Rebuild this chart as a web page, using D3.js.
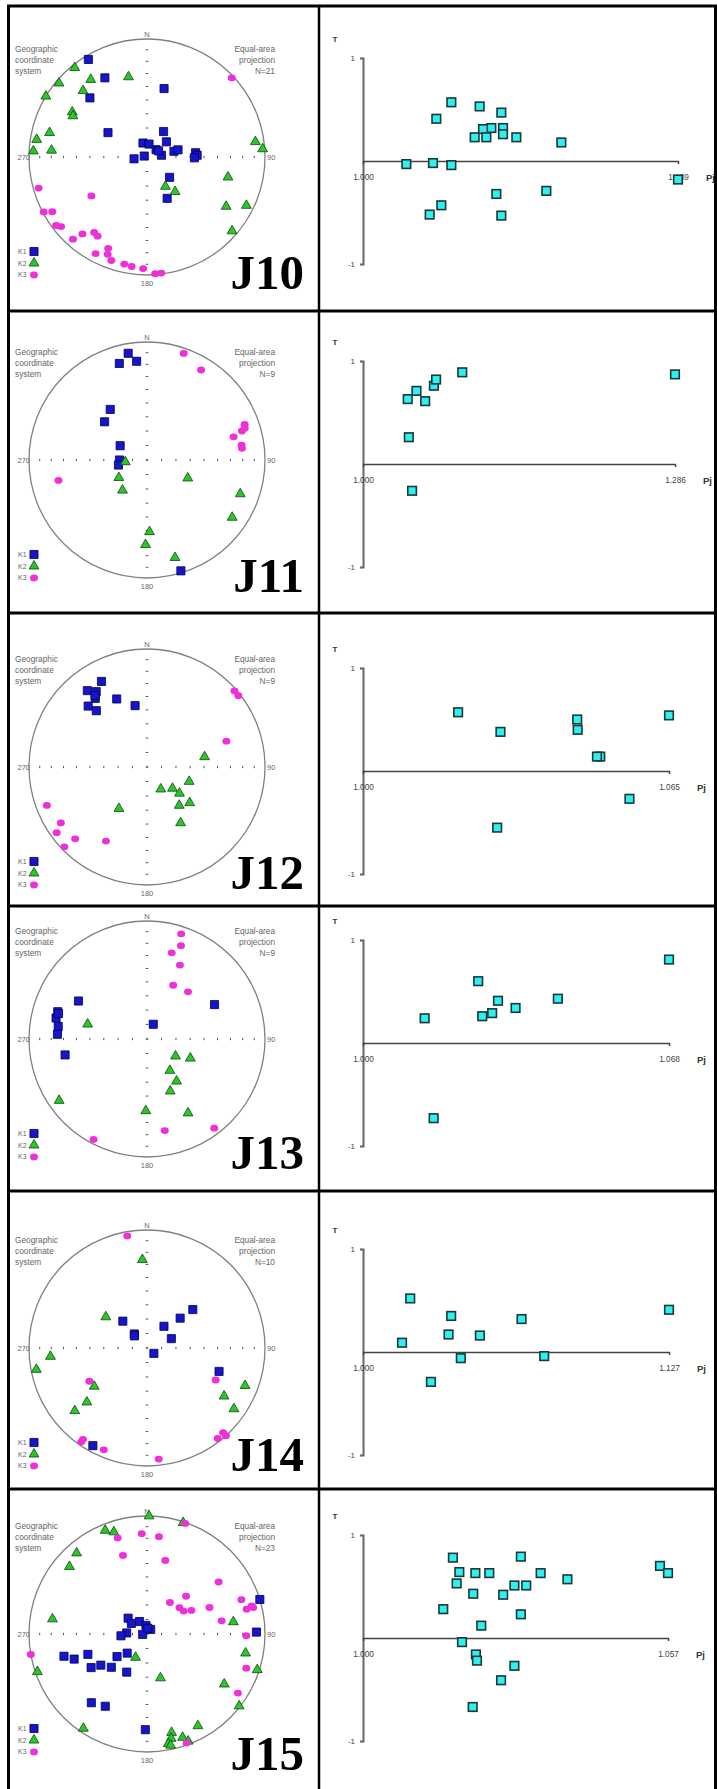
<!DOCTYPE html>
<html>
<head>
<meta charset="utf-8">
<script src="https://cdn.jsdelivr.net/npm/d3@7"></script>
<style>
body { margin: 0; background: #fff; }
svg { display: block; }
</style>
</head>
<body>
<div id="chart"></div>
<script>
// sites, one row each
var sites = ["J10", "J11", "J12", "J13", "J14", "J15"];
var nSpecimens = [21, 9, 9, 9, 10, 23];
var pjMax = [1.189, 1.286, 1.065, 1.068, 1.127, 1.057];

// AMS principal axes, [trend, plunge] in degrees (lower hemisphere)
var k1J10 = [[329,4],[332,25],[14,40],[316,31],[302,58],[33,69],[344,80],[9,81],[52,73],[51,82],[83,80],[78,71],[77,68],[262,81],[289,88],[85,56],[88,55],[91,57],[132,69],[154,58],[62,81]];
var k2J10 = [[321,3],[324,20],[347,31],[310,3],[316,23],[301,0],[301,27],[299,29],[284,16],[279,6],[274,20],[273,4],[82,8],[86,2],[104,30],[148,66],[141,59],[122,22],[116,7],[131,5]];
var k3J10 = [[47,2],[254,5],[235,42],[242,1],[240,8],[233,4],[231,7],[222,7],[220,16],[215,23],[212,22],[203,17],[208,8],[202,12],[199,8],[192,8],[188,7],[182,6],[176,1],[173,1]];

var k1J11 = [[350,9],[344,16],[354,17],[324,46],[312,50],[298,69],[270,71],[260,70],[163,2]];
var k2J11 = [[265,75],[238,67],[219,63],[114,59],[110,17],[124,14],[178,39],[181,29],[164,15]];
var k3J11 = [[19,5],[31,12],[70,13],[73,17],[72,14],[75,25],[81,20],[83,20],[257,24]];

var k1J12 = [[332,19],[322,19],[326,24],[323,28],[316,29],[318,36],[336,37],[349,46],[324,26]];
var k2J12 = [[80,49],[109,59],[148,72],[130,67],[129,61],[130,51],[140,55],[149,44],[214,55]];
var k3J12 = [[49,2],[52,2],[72,30],[249,10],[237,14],[234,6],[225,15],[226,3],[209,29]];

var k1J13 = [[299,34],[287,22],[283,22],[278,25],[273,25],[259,30],[23,79],[63,36],[286,23]];
var k2J13 = [[284,47],[121,67],[114,57],[144,63],[145,54],[156,50],[151,29],[181,39],[235,10]];
var k3J13 = [[18,7],[20,17],[16,25],[24,32],[26,48],[41,46],[169,22],[143,6],[208,4]];

var k1J14 = [[50,48],[48,59],[38,71],[69,72],[318,65],[318,77],[314,78],[128,84],[108,36],[209,6]];
var k2J14 = [[357,26],[307,54],[265,19],[259,5],[234,44],[228,32],[229,20],[111,12],[122,24],[125,11]];
var k3J14 = [[350,4],[240,43],[115,36],[138,4],[138,0],[142,3],[215,6],[215,3],[203,7],[174,6]];

var k1J15 = [[73,0],[89,8],[310,73],[329,80],[304,77],[353,84],[39,86],[265,87],[273,76],[266,72],[255,28],[251,35],[251,46],[239,44],[236,51],[227,56],[233,64],[226,71],[208,60],[219,26],[210,30],[181,20],[8,86]];
var k2J15 = [[1,0],[18,1],[338,6],[342,10],[319,10],[311,14],[279,20],[82,27],[206,72],[101,16],[108,2],[251,2],[163,58],[123,23],[128,1],[151,12],[214,4],[166,15],[167,10],[169,6],[161,8],[159,3],[168,4]];
var k3J15 = [[19,1],[357,16],[7,18],[343,16],[343,31],[14,36],[54,26],[46,52],[36,63],[51,61],[58,60],[62,55],[67,42],[70,16],[76,14],[75,9],[76,8],[80,36],[91,17],[109,12],[123,9],[160,2],[260,0]];

// shape parameter T against corrected anisotropy degree Pj, [Pj, T]
var tpjJ10 = [[1.053,0.57],[1.044,0.41],[1.070,0.53],[1.083,0.47],[1.077,0.32],[1.072,0.31],[1.084,0.32],[1.067,0.23],[1.074,0.23],[1.084,0.26],[1.092,0.23],[1.119,0.18],[1.026,-0.03],[1.042,-0.02],[1.053,-0.04],[1.080,-0.32],[1.110,-0.29],[1.047,-0.43],[1.040,-0.52],[1.083,-0.53],[1.189,-0.18]];
var tpjJ11 = [[1.041,0.63],[1.049,0.71],[1.057,0.61],[1.065,0.76],[1.067,0.82],[1.091,0.89],[1.286,0.87],[1.042,0.26],[1.045,-0.26]];
var tpjJ12 = [[1.0202,0.57],[1.0292,0.38],[1.0455,0.50],[1.0456,0.40],[1.0504,0.14],[1.0497,0.14],[1.065,0.54],[1.0566,-0.27],[1.0285,-0.55]];
var tpjJ13 = [[1.068,0.81],[1.0256,0.60],[1.030,0.41],[1.0433,0.43],[1.0339,0.34],[1.0287,0.29],[1.0265,0.26],[1.0137,0.24],[1.0157,-0.73]];
var tpjJ14 = [[1.0196,0.52],[1.0366,0.35],[1.0658,0.32],[1.127,0.41],[1.0355,0.17],[1.0485,0.16],[1.0162,0.09],[1.0406,-0.06],[1.0752,-0.04],[1.0282,-0.29]];
var tpjJ15 = [[1.0168,0.78],[1.0295,0.79],[1.0555,0.70],[1.057,0.63],[1.0180,0.64],[1.0210,0.63],[1.0236,0.63],[1.0332,0.63],[1.0382,0.57],[1.0175,0.53],[1.0283,0.51],[1.0305,0.51],[1.0206,0.43],[1.0262,0.42],[1.0150,0.28],[1.0295,0.23],[1.0221,0.12],[1.0185,-0.04],[1.0211,-0.16],[1.0213,-0.22],[1.0283,-0.27],[1.0258,-0.41],[1.0205,-0.67]];

var k1 = [k1J10, k1J11, k1J12, k1J13, k1J14, k1J15];
var k2 = [k2J10, k2J11, k2J12, k2J13, k2J14, k2J15];
var k3 = [k3J10, k3J11, k3J12, k3J13, k3J14, k3J15];
var tpj = [tpjJ10, tpjJ11, tpjJ12, tpjJ13, tpjJ14, tpjJ15];

function init() {
	//Dimensions
	var W = 717, H = 1789;
	var rowLines = [6, 311, 613, 906, 1191, 1489];
	var netCx = 147, netR = 118;
	var netCy = [157, 460, 767, 1039, 1348, 1634];
	var tagY = [289, 592, 889, 1169, 1471, 1770];
	var plotX0 = 363, plotHalf = 103;
	var plotX1 = [678, 675, 669, 669, 669, 668];

	var svg = d3.select("#chart")
				.append("svg")
				.attr("width", W)
				.attr("height", H)
				.style("font-family", "'Liberation Sans', Arial, sans-serif");

	svg.append("rect")
		.attr("width", W)
		.attr("height", H)
		.attr("fill", "#fff");

	// equal-area radius for a plunge, 0..1 of the net radius
	var rScale = d3.scaleLinear().domain([0, 1]).range([0, netR]);
	function eqArea(plunge) {
		return Math.SQRT2 * Math.sin((90 - plunge) * Math.PI / 360);
	}
	function pos(d) {
		var r = rScale(eqArea(d[1]));
		var t = d[0] * Math.PI / 180;
		return [r * Math.sin(t), -r * Math.cos(t)];
	}

	var square = d3.symbol(d3.symbolSquare, 66);
	var triangle = d3.symbol(d3.symbolTriangle, 42);

	sites.forEach(function(site, i) {
		var cy = netCy[i];

		//Stereonet
		var net = svg.append("g")
					.attr("transform", "translate(" + netCx + "," + cy + ")");

		net.append("circle")
			.attr("r", netR)
			.attr("fill", "none")
			.attr("stroke", "#808080")
			.attr("stroke-width", 1.3);

		// dip ticks every 10 degrees along both diameters
		var ticks = [0];
		d3.range(10, 90, 10).forEach(function(d) {
			var r = rScale(eqArea(d));
			ticks.push(r, -r);
		});
		net.selectAll("line.h")
			.data(ticks)
			.enter()
			.append("line")
			.attr("x1", function(d) { return d; })
			.attr("x2", function(d) { return d; })
			.attr("y1", -1.2)
			.attr("y2", 1.2)
			.attr("stroke", "#555")
			.attr("stroke-width", 1);
		net.selectAll("line.v")
			.data(ticks)
			.enter()
			.append("line")
			.attr("y1", function(d) { return d; })
			.attr("y2", function(d) { return d; })
			.attr("x1", -1.3)
			.attr("x2", 1.3)
			.attr("stroke", "#555")
			.attr("stroke-width", 1);

		var small = net.append("g")
					.attr("font-size", 7.5)
					.attr("fill", "#666");
		small.append("text").attr("x", 0).attr("y", -netR - 2).attr("text-anchor", "middle").text("N");
		small.append("text").attr("x", -netR + 1).attr("y", 3).attr("text-anchor", "end").text("270");
		small.append("text").attr("x", netR + 2).attr("y", 3).text("90");
		small.append("text").attr("x", 0).attr("y", netR + 11).attr("text-anchor", "middle").text("180");

		var left = ["Geographic", "coordinate", "system"];
		var right = ["Equal-area", "projection", "N=" + nSpecimens[i]];
		small.selectAll("text.l")
			.data(left)
			.enter()
			.append("text")
			.attr("x", -132)
			.attr("y", function(d, j) { return -105 + j * 11; })
			.attr("font-size", 8.3)
			.text(function(d) { return d; });
		small.selectAll("text.r")
			.data(right)
			.enter()
			.append("text")
			.attr("x", 128)
			.attr("y", function(d, j) { return -105 + j * 11; })
			.attr("text-anchor", "end")
			.attr("font-size", 8.3)
			.text(function(d) { return d; });

		//Legend
		["K1", "K2", "K3"].forEach(function(k, j) {
			var ly = 97 + j * 11.7;
			small.append("text").attr("x", -129).attr("y", ly).attr("font-size", 7).text(k);
			if (j == 0) {
				net.append("path").attr("d", square).attr("transform", "translate(-113," + (ly - 2.5) + ")")
					.attr("fill", "#1616c8").attr("stroke", "#00005a").attr("stroke-width", 0.8);
			} else if (j == 1) {
				net.append("path").attr("d", triangle).attr("transform", "translate(-113," + (ly - 2.5) + ")")
					.attr("fill", "#2cc62c").attr("stroke", "#0a4a0a").attr("stroke-width", 0.8);
			} else {
				net.append("ellipse").attr("cx", -113).attr("cy", ly - 2.5).attr("rx", 4).attr("ry", 3.4)
					.attr("fill", "#ee30d8");
			}
		});

		//Points: K1 squares, K2 triangles, K3 circles
		net.selectAll("path.k1")
			.data(k1[i])
			.enter()
			.append("path")
			.attr("d", square)
			.attr("transform", function(d) { return "translate(" + pos(d) + ")"; })
			.attr("fill", "#1616c8")
			.attr("stroke", "#00005a")
			.attr("stroke-width", 0.8);
		net.selectAll("path.k2")
			.data(k2[i])
			.enter()
			.append("path")
			.attr("d", triangle)
			.attr("transform", function(d) { return "translate(" + pos(d) + ")"; })
			.attr("fill", "#2cc62c")
			.attr("stroke", "#0a4a0a")
			.attr("stroke-width", 0.8);
		net.selectAll("ellipse.k3")
			.data(k3[i])
			.enter()
			.append("ellipse")
			.attr("cx", function(d) { return pos(d)[0]; })
			.attr("cy", function(d) { return pos(d)[1]; })
			.attr("rx", 4)
			.attr("ry", 3.4)
			.attr("fill", "#ee30d8");

		//Site tag
		net.append("text")
			.attr("x", 157)
			.attr("y", tagY[i] - cy)
			.attr("text-anchor", "end")
			.style("font-family", "'Liberation Serif', 'Times New Roman', serif")
			.style("font-weight", "bold")
			.style("font-size", "49px")
			.text(site);

		//T - Pj plot
		var y0 = cy + 4;
		var xScale = d3.scaleLinear()
					.domain([1, pjMax[i]])
					.range([plotX0, plotX1[i]]);
		var yScale = d3.scaleLinear()
					.domain([-1, 1])
					.range([y0 + plotHalf, y0 - plotHalf]);

		var yAxis = svg.append("g")
			.attr("transform", "translate(" + plotX0 + ",0)")
			.call(d3.axisLeft(yScale)
				.tickValues([-1, 1])
				.tickSize(3)
				.tickSizeOuter(3)
				.tickPadding(5)
				.tickFormat(function(d) { return d < 0 ? "-1" : "1"; }));
		yAxis.attr("font-size", 8).attr("font-family", null);
		yAxis.select(".domain").attr("stroke", "#666").attr("stroke-width", 2);
		yAxis.selectAll("line").attr("stroke", "#666").attr("stroke-width", 1.2);
		yAxis.selectAll("text").attr("fill", "#444");

		var xAxis = svg.append("g")
			.attr("transform", "translate(0," + y0 + ")")
			.call(d3.axisBottom(xScale)
				.tickValues([1, pjMax[i]])
				.tickSizeInner(0)
				.tickSizeOuter(3)
				.tickPadding(13)
				.tickFormat(d3.format(".3f")));
		xAxis.attr("font-size", 8.3).attr("font-family", null);
		xAxis.select(".domain").attr("stroke", "#444").attr("stroke-width", 1.5);
		xAxis.selectAll("text").attr("fill", "#444");

		svg.append("text")
			.attr("x", plotX0 - 28)
			.attr("y", y0 - 119)
			.attr("text-anchor", "middle")
			.attr("font-size", 8)
			.attr("font-weight", "bold")
			.attr("fill", "#333")
			.text("T");
		svg.append("text")
			.attr("x", plotX1[i] + 28)
			.attr("y", y0 + 20)
			.attr("font-size", 9.5)
			.attr("font-weight", "bold")
			.attr("fill", "#333")
			.text("Pj");

		svg.append("g")
			.selectAll("rect")
			.data(tpj[i])
			.enter()
			.append("rect")
			.attr("x", function(d) { return xScale(d[0]) - 4.3; })
			.attr("y", function(d) { return yScale(d[1]) - 4.3; })
			.attr("width", 8.6)
			.attr("height", 8.6)
			.attr("fill", "#2ef0f0")
			.attr("stroke", "#1c3838")
			.attr("stroke-width", 1.6);
	});

	//Frame
	var frame = svg.append("g")
				.attr("stroke", "#000")
				.attr("stroke-width", 3);
	frame.append("line").attr("x1", 8.5).attr("x2", 8.5).attr("y1", 5).attr("y2", H);
	frame.append("line").attr("x1", 715.5).attr("x2", 715.5).attr("y1", 5).attr("y2", H);
	frame.append("line").attr("x1", 319).attr("x2", 319).attr("y1", 5).attr("y2", H).attr("stroke-width", 2.5);
	frame.selectAll("line.row")
		.data(rowLines)
		.enter()
		.append("line")
		.attr("x1", 7)
		.attr("x2", 717)
		.attr("y1", function(d) { return d; })
		.attr("y2", function(d) { return d; });
}
window.onload = init;
</script>
</body>
</html>
